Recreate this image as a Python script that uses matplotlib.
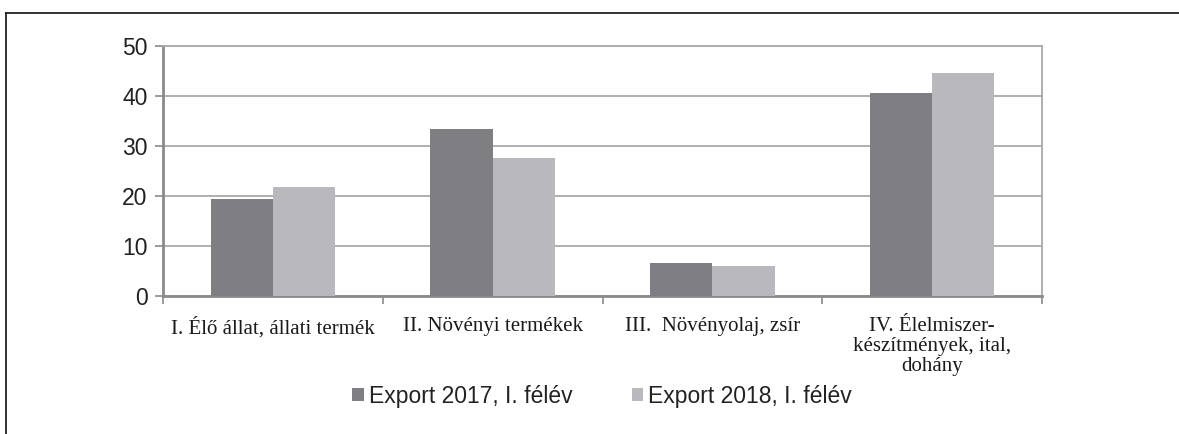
import matplotlib
matplotlib.use("Agg")
import matplotlib.pyplot as plt
import numpy as np
from matplotlib.lines import Line2D

categories = ["I. Élő állat, állati termék", "II. Növényi termékek",
              "III.  Növényolaj, zsír", "IV. Élelmiszer-\nkészítmények, ital,\ndohány"]
export_2017 = [19.4, 33.4, 6.6, 40.7]
export_2018 = [21.9, 27.6, 6.1, 44.6]
series_labels = ["Export 2017, I. félév", "Export 2018, I. félév"]
yticks = [0, 10, 20, 30, 40, 50]

dark = "#7f7f83"
light = "#b9b9bd"
axcol = "#8a8a8a"

fig = plt.figure(figsize=(11.79, 4.34), dpi=100)
ax = fig.add_axes([163/1179, 1-296/434, (1042-163)/1179, (296-46)/434])

x = np.arange(len(categories))
w = 0.283
b1 = ax.bar(x - w/2, export_2017, w, color=dark, label=series_labels[0], zorder=3)
b2 = ax.bar(x + w/2, export_2018, w, color=light, label=series_labels[1], zorder=3)

ax.set_xlim(-0.5, len(categories) - 0.5)
ax.set_ylim(0, 50)
ax.set_yticks(yticks)
ax.yaxis.grid(True, color="#a9a9a9", linewidth=1.3, zorder=0)
ax.set_axisbelow(True)

ax.set_xticks(x)
ax.set_xticklabels(categories, fontfamily="Liberation Serif", fontsize=15,
                   linespacing=1.08, va="top")
ax.tick_params(axis="x", which="major", length=0, pad=15)
ax.set_xticks(np.arange(-0.5, len(categories), 1.0), minor=True)
ax.tick_params(axis="x", which="minor", length=6, width=1.2, color=axcol, direction="out")
ax.tick_params(axis="y", length=6, width=1.2, color=axcol, direction="out", pad=5)
for lbl in ax.get_yticklabels():
    lbl.set_fontfamily("Liberation Sans")
    lbl.set_fontsize(16.5)
    lbl.set_color("#222222")
for lbl in ax.get_xticklabels():
    lbl.set_color("#1a1a1a")

for side in ["left", "bottom"]:
    ax.spines[side].set_color(axcol)
    ax.spines[side].set_linewidth(2)
for side in ["top", "right"]:
    ax.spines[side].set_color("#a9a9a9")
    ax.spines[side].set_linewidth(1.3)

leg = fig.legend(handles=[b1, b2], labels=series_labels, loc="center",
                 bbox_to_anchor=(602/1179, 1-396/434), ncol=2, frameon=False,
                 prop={"family": "Liberation Sans", "size": 16.5},
                 handlelength=0.5, handleheight=0.5, handletextpad=0.2,
                 columnspacing=2.6)
for t in leg.get_texts():
    t.set_color("#222222")

# outer frame lines (top and left)
fig.add_artist(Line2D([6/1179, 1.0], [1-13/434, 1-13/434], color="#222222", lw=1.3,
                      transform=fig.transFigure))
fig.add_artist(Line2D([6/1179, 6/1179], [1-13/434, 0.0], color="#222222", lw=1.3,
                      transform=fig.transFigure))

fig.savefig("out.png", dpi=100)
